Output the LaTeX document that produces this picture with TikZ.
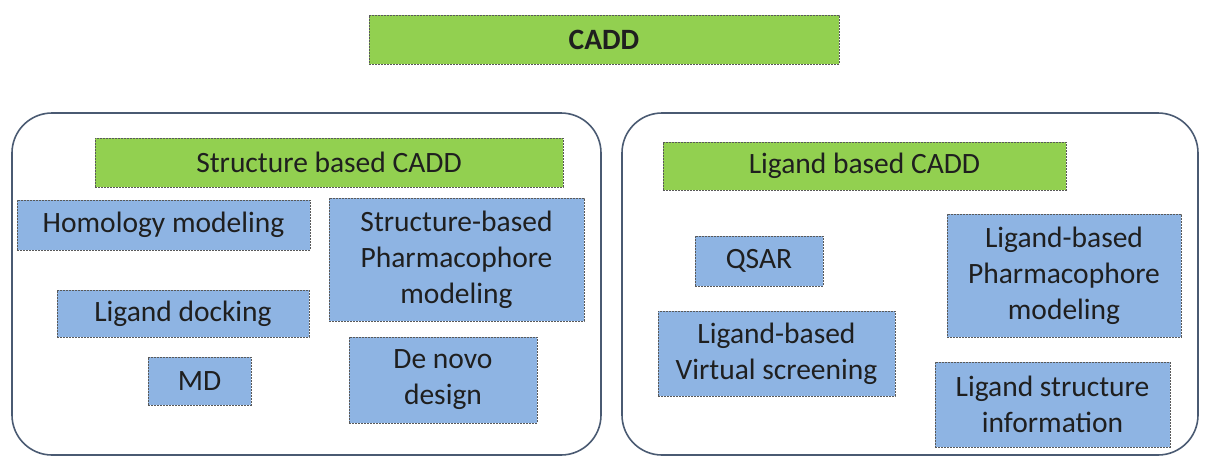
\documentclass[tikz,border=0pt]{standalone}
\usepackage{fontspec}
\setmainfont{Carlito}
\begin{document}
\begin{tikzpicture}[x=1pt,y=-1pt,
  box/.style={draw=gray!70!black, dash pattern=on 2pt off 1pt, line width=0.7pt, inner sep=0pt, align=center, font=\fontsize{29.5}{36}\selectfont, text=black!88},
  gbox/.style={box, fill=cgreen},
  bbox/.style={box, fill=cblue},
  cont/.style={draw=cframe, line width=1.6pt, rounded corners=40pt}
]
\definecolor{cgreen}{HTML}{92D050}
\definecolor{cblue}{HTML}{8EB4E3}
\definecolor{cframe}{HTML}{4A5A72}
\useasboundingbox (0,0) rectangle (1208,459);
\newcommand{\bx}[7]{\node[#1, minimum width=#4-#3, minimum height=#6-#5] (#2) at ({(#3+#4)/2},{(#5+#6)/2}) {#7};}
\draw[cont] (12,113) rectangle (601,455);
\draw[cont] (622,113) rectangle (1198,455);
\bx{gbox}{cadd}{369}{839}{15}{64}{\textbf{CADD}}
\bx{gbox}{sb}{95}{563}{138}{187}{Structure based CADD}
\bx{bbox}{hom}{17}{310}{200}{250}{Homology modeling}
\bx{bbox}{sbp}{329}{584}{198}{321}{Structure-based\\Pharmacophore\\modeling}
\bx{bbox}{dock}{57}{309}{290}{337}{Ligand docking}
\bx{bbox}{md}{148}{251}{357}{405}{MD}
\bx{bbox}{dn}{349}{537}{337}{423}{De novo\\design}
\bx{gbox}{lb}{663}{1066}{142}{190}{Ligand based CADD}
\bx{bbox}{qsar}{695}{823}{236}{286}{QSAR}
\bx{bbox}{lbp}{947}{1181}{214}{337}{Ligand-based\\Pharmacophore\\modeling}
\bx{bbox}{vs}{658}{895}{311}{396}{Ligand-based\\Virtual screening}
\bx{bbox}{lsi}{935}{1170}{362}{447}{Ligand structure\\information}
\end{tikzpicture}
\end{document}
